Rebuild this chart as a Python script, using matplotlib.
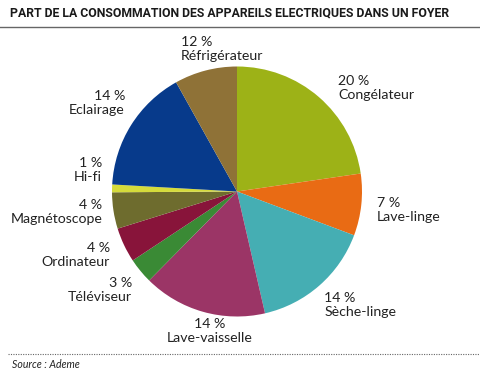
import matplotlib
matplotlib.use("Agg")
import matplotlib.pyplot as plt
from matplotlib.lines import Line2D

categories = ["Congélateur", "Lave-linge", "Sèche-linge", "Lave-vaisselle", "Téléviseur",
              "Ordinateur", "Magnétoscope", "Hi-fi", "Eclairage", "Réfrigérateur"]
slice_values = [22.7, 8.0, 15.7, 16.0, 3.3, 4.5, 4.7, 1.0, 16.0, 8.1]
label_percents = ["20 %", "7 %", "14 %", "14 %", "3 %", "4 %", "4 %", "1 %", "14 %", "12 %"]
colors = ["#9DB217", "#E96B14", "#45AEB3", "#9B3566", "#3A8A35",
          "#88143A", "#6E6C2E", "#D5DB3B", "#073A8B", "#8F7237"]

# label anchor positions in pie units (radius = 1), and alignment
label_pos = [(0.81, 0.83, "left"), (1.12, -0.145, "left"), (0.70, -0.91, "left"),
             (-0.216, -1.116, "center"), (-0.84, -0.79, "right"), (-1.016, -0.508, "right"),
             (-1.077, -0.164, "right"), (-1.08, 0.172, "right"), (-0.896, 0.708, "right"),
             (-0.448, 1.14, "left")]

W, H = 480, 375
fig = plt.figure(figsize=(W / 100, H / 100), dpi=100)
fig.patch.set_facecolor("white")

cx, cy, r = 237, 191.5, 125
ax = fig.add_axes([(cx - r) / W, (H - cy - r) / H, 2 * r / W, 2 * r / H])
ax.pie(slice_values, colors=colors, startangle=90, counterclock=False, radius=1,
       wedgeprops=dict(linewidth=0))
ax.set_xlim(-1, 1)
ax.set_ylim(-1, 1)
ax.set_aspect("equal")
ax.axis("off")

txtcol = "#222222"
fam = ["Lato", "DejaVu Sans"]
for cat, pct, (x, y, ha) in zip(categories, label_percents, label_pos):
    ax.text(x, y, pct + "\n" + cat, ha=ha, va="center", fontsize=10.2, color=txtcol,
            family=fam, linespacing=1.22, clip_on=False, multialignment=ha)

# Title
title = fig.text(10 / W, 1 - 13 / H, "PART DE LA CONSOMMATION DES APPAREILS ELECTRIQUES DANS UN FOYER",
                 ha="left", va="center", fontsize=9, fontweight="bold", color="#1a1a1a",
                 family=["Roboto", "DejaVu Sans"])
fig.canvas.draw()
bb = title.get_window_extent()
target = 441
title.set_fontsize(9 * target / bb.width)

fig.add_artist(Line2D([0, 1], [1 - 27 / H, 1 - 27 / H], transform=fig.transFigure,
                      color="#666666", linewidth=1))
fig.add_artist(Line2D([8 / W, 1], [1 - 354 / H, 1 - 354 / H], transform=fig.transFigure,
                      color="#666666", linewidth=0.8, linestyle=(0, (1, 1.2))))
fig.text(12 / W, 1 - 365 / H, "Source : Ademe", ha="left", va="center", fontsize=7.6,
         style="italic", color="#222222", family=fam)

fig.savefig("out.png", dpi=100, facecolor="white")
